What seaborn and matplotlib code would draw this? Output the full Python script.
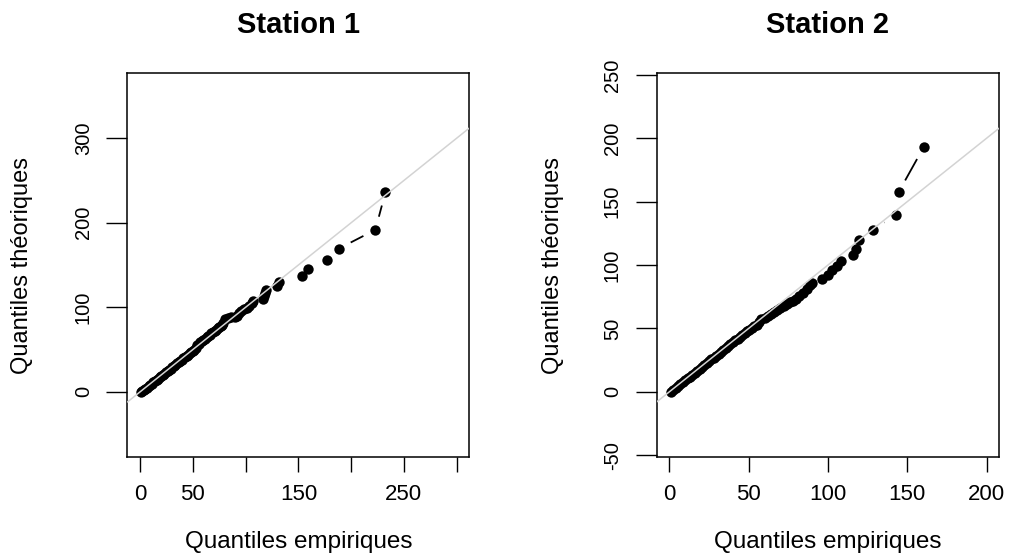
import numpy as np
import matplotlib
matplotlib.use("Agg")
import matplotlib.pyplot as plt
import seaborn as sns
import pandas as pd

# ---------------- data ----------------
titles = ["Station 1", "Station 2"]
xlabel = "Quantiles empiriques"
ylabel = "Quantiles théoriques"

s1_emp = [0.5, 2, 3.5, 5, 6.5, 8, 9.5, 11, 12.5, 14, 15.5, 17, 18.5, 20, 21.5, 23, 24.5, 26,
          27.5, 29, 30.5, 32, 33.5, 35, 36.5, 38, 39.5, 41, 42.5, 44, 45.5, 47, 48.5, 50, 51.5,
          53, 54, 55.5, 57, 58.5, 60, 61.5, 63, 64.5, 66, 67.5, 69, 70.5, 72, 73.5, 75, 76.5,
          78, 79, 80.5, 83, 86, 89.5, 92, 94, 95.5, 98, 101, 103, 106, 107, 116, 117, 118.5,
          119.5, 129.7, 131.2, 153.4, 159.1, 177.1, 188.2, 223, 232.4]
s1_theo = [0, 1, 2.5, 3.5, 5, 6.5, 8, 9.5, 11, 12.5, 14, 15.5, 17, 18.5, 20, 21.5, 23, 24.5,
           26, 27.5, 29, 30.5, 32, 33.5, 35, 36.5, 38, 39.5, 41, 42.5, 44, 45.5, 47, 48.5, 50,
           52, 55, 57, 59, 60, 61.5, 63, 64.5, 66, 67.5, 69, 70.5, 72, 73.5, 75, 76.5, 78,
           79.5, 81, 86, 87, 88, 89, 90, 93, 95.5, 98, 99.5, 101, 105, 107, 110, 113, 117,
           120, 124.8, 129.9, 137, 144.9, 155.5, 169.3, 191.7, 235.8]

s2_emp = [1, 2.5, 4, 5.5, 7, 8.5, 10, 11.5, 13, 14.5, 16, 17.5, 19, 20.5, 22, 23.5, 25, 26.5,
          28, 29.5, 31, 32.5, 34, 35.5, 37, 38.5, 40, 41.5, 43, 44.5, 46, 47.5, 49, 50.5, 52,
          53.5, 55, 56.5, 58, 60, 62, 64, 66, 68, 70, 72, 74, 76, 78, 80, 82, 84, 86.5, 88.6,
          90, 96, 100.2, 102.3, 105.9, 108, 115.6, 117.7, 119.6, 128.3, 142.8, 144.5, 160.3]
s2_theo = [0, 1.5, 3, 4.5, 6, 7.5, 9, 10.5, 12, 13.5, 15, 16.5, 18, 19.5, 21, 22.5, 24, 25.5,
           27, 28.5, 30, 31.5, 33, 34.5, 36, 37.5, 39, 40.5, 42, 43.5, 45, 46.5, 48, 49, 50,
           51.5, 53, 55, 57.5, 58.5, 60, 61.5, 63, 64.5, 66, 67.5, 69, 70.5, 72, 73.5, 75.5,
           78, 81.2, 84.6, 86, 88.6, 92.5, 95.7, 99.6, 103, 107.5, 112.8, 119.9, 127.8, 139.3,
           157.4, 192.9]

s1_xticks = [0, 50, 100, 150, 200, 250, 300]
s1_xticklabels = ["0", "50", "", "150", "", "250", ""]
s1_yticks = [0, 100, 200, 300]
s2_xticks = [0, 50, 100, 150, 200]
s2_yticks = [-50, 0, 50, 100, 150, 200, 250]

# ---------------- style ----------------
sns.set_style("ticks")
plt.rcParams['font.family'] = ['Liberation Sans', 'DejaVu Sans']
plt.rcParams['text.color'] = 'black'
plt.rcParams['axes.labelcolor'] = 'black'
plt.rcParams['xtick.color'] = 'black'
plt.rcParams['ytick.color'] = 'black'

W, H = 1009, 554
fig = plt.figure(figsize=(W / 100, H / 100), dpi=100)

def frac(l, r, t, b):
    return [l / W, (H - b) / H, (r - l) / W, (b - t) / H]

ax1 = fig.add_axes(frac(127.5, 469.3, 73.3, 456.7))
ax2 = fig.add_axes(frac(656.7, 999.3, 73.3, 456.7))

panels = [
    (ax1, s1_emp, s1_theo, (-12, 312), (-76.8, 376.8), s1_xticks, s1_xticklabels, s1_yticks, -0.31),
    (ax2, s2_emp, s2_theo, (-8, 208), (-51.2, 251.2), s2_xticks, [str(v) for v in s2_xticks], s2_yticks, -0.304),
]

GAP = 13.5  # pixels, gap around points for type="b"-like lines


def gapped_lines(ax, x, y, gap):
    pts = ax.transData.transform(np.column_stack([x, y]))
    inv = ax.transData.inverted()
    for p0, p1 in zip(pts[:-1], pts[1:]):
        d = p1 - p0
        L = np.hypot(*d)
        if L > 2 * gap:
            u = d / L
            a = inv.transform(p0 + u * gap)
            b = inv.transform(p1 - u * gap)
            ax.plot([a[0], b[0]], [a[1], b[1]], color="black", lw=1.3, zorder=2,
                    solid_capstyle="butt")


for i, (ax, xe, yt, xl, yl, xt, xtl, yti, ylx) in enumerate(panels):
    ax.set_xlim(*xl)
    ax.set_ylim(*yl)
    df = pd.DataFrame({"emp": xe, "theo": yt})
    sns.scatterplot(data=df, x="emp", y="theo", ax=ax, color="black", s=56,
                    linewidth=0, zorder=3)
    ax.set_xlim(*xl)
    ax.set_ylim(*yl)
    gapped_lines(ax, xe, yt, GAP)
    ax.axline((0, 0), slope=1, color="#d3d3d3", lw=1.1, zorder=4)

    ax.set_xticks(xt)
    ax.set_xticklabels(xtl, fontsize=16)
    ax.set_yticks(yti)
    ax.set_yticklabels([str(v) for v in yti], fontsize=14.5, rotation=90, va="center")
    ax.tick_params(axis="x", length=11, width=1, direction="out", pad=9, colors="black")
    ax.tick_params(axis="y", length=15, width=1, direction="out", pad=10, colors="black")

    for sp in ax.spines.values():
        sp.set_visible(True)
        sp.set_color("black")
        sp.set_linewidth(1.1)

    ax.set_xlabel(xlabel, fontsize=17.5, va="center", color="black")
    ax.xaxis.set_label_coords(0.5, -0.222)
    ax.set_ylabel(ylabel, fontsize=17, va="center", color="black")
    ax.yaxis.set_label_coords(ylx, 0.5)
    ax.text(0.5, 1.105, titles[i], transform=ax.transAxes, ha="center", va="baseline",
            fontsize=21, fontweight="bold", color="black")

fig.savefig("out.png", dpi=100)
